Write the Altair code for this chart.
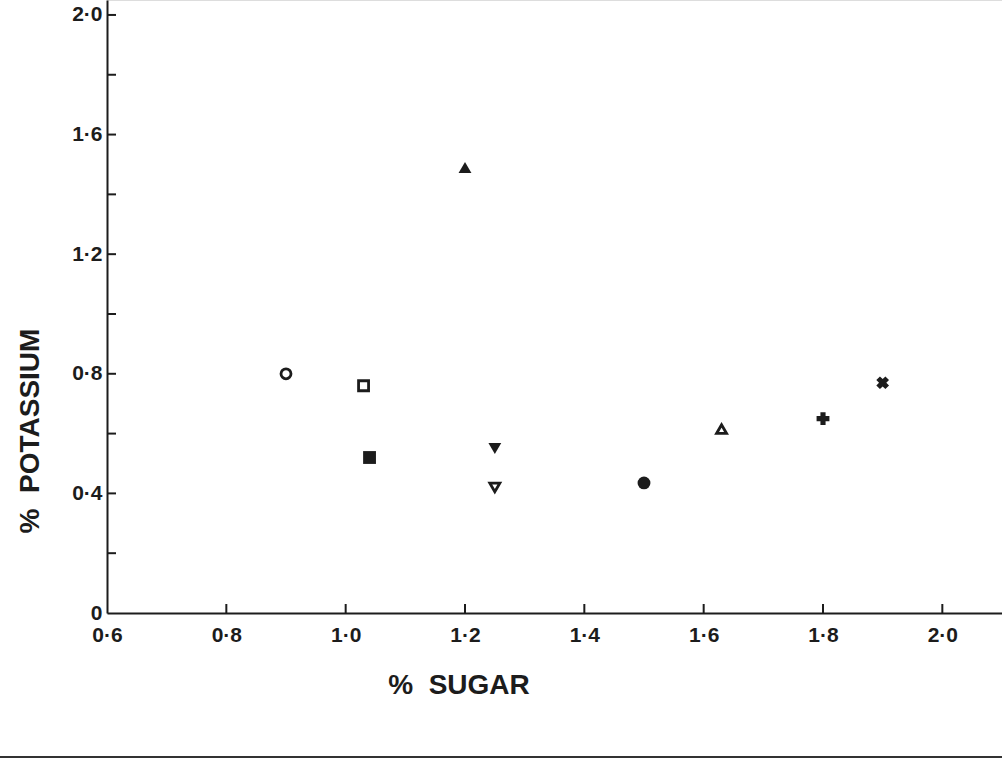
import altair as alt
import pandas as pd

# Sugar and potassium content (%) for each sample, with its plotting symbol
sugar = [0.90, 1.03, 1.04, 1.20, 1.25, 1.25, 1.50, 1.63, 1.80, 1.90]
potassium = [0.80, 0.76, 0.52, 1.49, 0.55, 0.42, 0.435, 0.615, 0.65, 0.77]
symbol = ["circle", "square", "square", "triangle-up", "triangle-down",
          "triangle-down", "circle", "triangle-up", "cross", "cross"]
filled = [False, False, True, True, True, False, True, False, True, True]
rotation = [0, 0, 0, 0, 0, 0, 0, 0, 0, 45]

x_ticks = [0.8, 1.0, 1.2, 1.4, 1.6, 1.8, 2.0]
y_ticks = [0.2, 0.4, 0.6, 0.8, 1.0, 1.2, 1.4, 1.6, 1.8, 2.0]
x_labels = [0.6, 0.8, 1.0, 1.2, 1.4, 1.6, 1.8, 2.0]
y_labels = [0, 0.4, 0.8, 1.2, 1.6, 2.0]

FONT = "Liberation Sans"
INK = "#1c1c1c"
NB = "\u00a0"

df = pd.DataFrame({"sugar": sugar, "potassium": potassium, "symbol": symbol,
                   "filled": filled, "rot": rotation})

xs = alt.Scale(domain=[0.6, 2.1], nice=False, zero=False)
ys = alt.Scale(domain=[0, 2.05], nice=False)

dot_label = "replace(format(datum.value, '.1f'), '.', '·')"

x_axis = alt.Axis(values=x_labels, title=None, grid=False, ticks=False,
                  domainColor=INK, domainWidth=2, labelFont=FONT,
                  labelFontSize=21, labelFontWeight="bold", labelColor=INK,
                  labelPadding=11, labelExpr=dot_label, labelFlush=False)
y_axis = alt.Axis(values=y_labels, title=None, grid=False, ticks=False,
                  domainColor=INK, domainWidth=2, labelFont=FONT,
                  labelFontSize=21, labelFontWeight="bold", labelColor=INK,
                  labelPadding=5,
                  labelExpr="datum.value == 0 ? '0' : " + dot_label)

shape_scale = alt.Scale(domain=["circle", "square", "triangle-up",
                                "triangle-down", "cross"],
                        range=["circle", "square", "triangle-up",
                               "triangle-down", "cross"])

base = alt.Chart(df).encode(
    x=alt.X("sugar:Q", scale=xs, axis=x_axis),
    y=alt.Y("potassium:Q", scale=ys, axis=y_axis),
    shape=alt.Shape("symbol:N", scale=shape_scale, legend=None),
    angle=alt.Angle("rot:Q", scale=None),
)

open_pts = base.transform_filter("!datum.filled").mark_point(
    filled=False, color=INK, strokeWidth=2.8, size=100, opacity=1)
solid_pts = base.transform_filter("datum.filled").mark_point(
    filled=True, color=INK, size=165, opacity=1)

# Inward tick marks along both axes
xt = alt.Chart(pd.DataFrame({"v": x_ticks})).mark_rule(
    color=INK, strokeWidth=2).encode(
    x=alt.X("v:Q", scale=xs), y=alt.value(613), y2=alt.value(604))
yt = alt.Chart(pd.DataFrame({"v": y_ticks})).mark_rule(
    color=INK, strokeWidth=2).encode(
    y=alt.Y("v:Q", scale=ys), x=alt.value(0), x2=alt.value(9))

x_title = alt.Chart(pd.DataFrame({"t": ["%" + NB * 2 + "SUGAR"]})).mark_text(
    font=FONT, fontSize=28, fontWeight="bold", color=INK).encode(
    text="t:N", x=alt.value(352), y=alt.value(686))
y_title = alt.Chart(pd.DataFrame({"t": ["%" + NB * 2 + "POTASSIUM"]})).mark_text(
    font=FONT, fontSize=28, fontWeight="bold", color=INK, angle=270).encode(
    text="t:N", x=alt.value(-76), y=alt.value(431))

# Page edge line at the foot of the figure
edge = alt.Chart(pd.DataFrame({"a": [0]})).mark_rule(
    color="#333333", strokeWidth=2).encode(
    x=alt.value(-107), x2=alt.value(895), y=alt.value(757))

chart = alt.layer(xt, yt, open_pts, solid_pts, x_title, y_title, edge).properties(
    width=895, height=613,
    autosize=alt.AutoSizeParams(type="none"),
    padding={"left": 107, "top": 0, "right": 0, "bottom": 150},
).configure_view(stroke=None).configure(background="white")

chart.save("out.html", embed_options={"renderer": "svg", "actions": False})
